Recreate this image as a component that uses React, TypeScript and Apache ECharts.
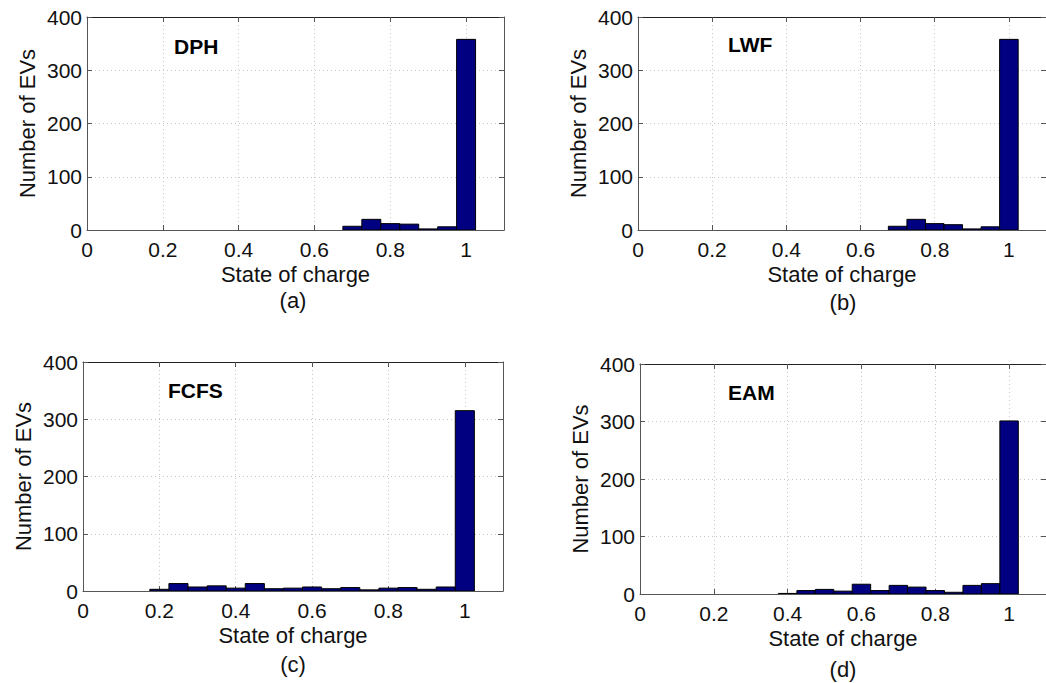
import React, { useEffect, useRef } from "react";
import * as echarts from "echarts";

const BIN = 0.05;
const xTicks = [0, 0.2, 0.4, 0.6, 0.8, 1];
const yTicks = [0, 100, 200, 300, 400];

const centersAB = [0.7, 0.75, 0.8, 0.85, 0.9, 0.95, 1.0];
const dphCounts = [7, 20, 12, 11, 2, 6, 358];
const lwfCounts = [7, 20, 12, 10, 2, 6, 358];

const centersC = [0.2, 0.25, 0.3, 0.35, 0.4, 0.45, 0.5, 0.55, 0.6, 0.65, 0.7, 0.75, 0.8, 0.85, 0.9, 0.95, 1.0];
const fcfsCounts = [3, 13, 7, 9, 5, 13, 4, 5, 7, 4, 6, 2, 5, 6, 3, 7, 315];

const centersD = [0.4, 0.45, 0.5, 0.55, 0.6, 0.65, 0.7, 0.75, 0.8, 0.85, 0.9, 0.95, 1.0];
const eamCounts = [1, 6, 8, 5, 17, 6, 15, 12, 6, 3, 15, 18, 301];

const panelNames = ["DPH", "LWF", "FCFS", "EAM"];
const panelTags = ["(a)", "(b)", "(c)", "(d)"];
const xName = "State of charge";
const yName = "Number of EVs";

const FONT = "'Liberation Sans', Arial, Helvetica, sans-serif";

export default function App() {
  const ref = useRef<HTMLDivElement>(null);
  useEffect(() => {
    if (!ref.current) return;
    const chart = echarts.init(ref.current, null, { renderer: "svg" });

    const grids = [
      { left: 87, top: 17, width: 417, height: 213 },
      { left: 638, top: 17, width: 412, height: 213 },
      { left: 83, top: 362, width: 420, height: 229 },
      { left: 640, top: 364, width: 410, height: 230 },
    ];
    const datasets = [
      centersAB.map((c, i) => [c, dphCounts[i]]),
      centersAB.map((c, i) => [c, lwfCounts[i]]),
      centersC.map((c, i) => [c, fcfsCounts[i]]),
      centersD.map((c, i) => [c, eamCounts[i]]),
    ];
    const labelPos = [
      { x: 174, y: 47 },
      { x: 728, y: 45 },
      { x: 168, y: 391 },
      { x: 728, y: 393 },
    ];
    const tagPos = [
      { x: 293, y: 300 },
      { x: 843, y: 302 },
      { x: 293, y: 664 },
      { x: 843, y: 669 },
    ];

    const axisLineStyle = { color: "#555", width: 1 };
    const topLineStyle = { color: "#222", width: 1 };
    const xAxes: any[] = [];
    const yAxes: any[] = [];
    const series: any[] = [];

    grids.forEach((g, i) => {
      xAxes.push({
        type: "value",
        gridIndex: i,
        min: 0,
        max: 1.1,
        interval: 0.2,
        name: xName,
        nameLocation: "middle",
        nameGap: 33,
        nameTextStyle: { fontFamily: FONT, fontSize: 22, color: "#111" },
        axisLine: { show: true, onZero: false, lineStyle: axisLineStyle },
        axisTick: { show: true, inside: true, length: 5, lineStyle: axisLineStyle },
        axisLabel: {
          fontFamily: FONT,
          fontSize: 21,
          color: "#111",
          margin: 9,
          showMaxLabel: false,
          formatter: (v: number) => (xTicks.some((t) => Math.abs(t - v) < 1e-6) ? String(+v.toFixed(1)) : ""),
        },
        splitLine: { show: true, lineStyle: { color: "#c8c8c8", type: [1, 3], width: 1 } },
      });
      xAxes.push({
        type: "value",
        gridIndex: i,
        position: "top",
        min: 0,
        max: 1.1,
        interval: 0.2,
        axisLine: { show: true, onZero: false, lineStyle: topLineStyle },
        axisTick: { show: true, inside: true, length: 5, lineStyle: axisLineStyle },
        axisLabel: { show: false },
        splitLine: { show: false },
      });
      yAxes.push({
        type: "value",
        gridIndex: i,
        min: 0,
        max: 400,
        interval: 100,
        name: yName,
        nameLocation: "middle",
        nameGap: 49,
        nameTextStyle: { fontFamily: FONT, fontSize: 22, color: "#111" },
        axisLine: { show: true, onZero: false, lineStyle: axisLineStyle },
        axisTick: { show: true, inside: true, length: 5, lineStyle: axisLineStyle },
        axisLabel: {
          fontFamily: FONT,
          fontSize: 21,
          color: "#111",
          margin: 5,
          formatter: (v: number) => (yTicks.includes(v) ? String(v) : ""),
        },
        splitLine: { show: true, lineStyle: { color: "#c8c8c8", type: [1, 3], width: 1 } },
      });
      yAxes.push({
        type: "value",
        gridIndex: i,
        position: "right",
        min: 0,
        max: 400,
        interval: 100,
        axisLine: { show: true, onZero: false, lineStyle: axisLineStyle },
        axisTick: { show: true, inside: true, length: 5, lineStyle: axisLineStyle },
        axisLabel: { show: false },
        splitLine: { show: false },
      });
      series.push({
        type: "custom",
        xAxisIndex: i * 2,
        yAxisIndex: i * 2,
        data: datasets[i],
        encode: { x: 0, y: 1 },
        clip: true,
        renderItem: (params: any, api: any) => {
          const x = api.value(0);
          const y = api.value(1);
          const p0 = api.coord([x - BIN / 2, y]);
          const p1 = api.coord([x + BIN / 2, 0]);
          return {
            type: "rect",
            shape: { x: p0[0], y: p0[1], width: p1[0] - p0[0], height: p1[1] - p0[1] },
            style: { fill: "#000080", stroke: "#000", lineWidth: 1 },
          };
        },
      });
    });

    const graphic: any[] = [];
    panelNames.forEach((n, i) => {
      graphic.push({
        type: "text",
        left: labelPos[i].x,
        top: labelPos[i].y - 11,
        style: { text: n, font: `bold 21px ${FONT}`, fill: "#000" },
      });
      graphic.push({
        type: "text",
        x: tagPos[i].x,
        y: tagPos[i].y,
        style: {
          text: panelTags[i],
          font: `22px ${FONT}`,
          fill: "#111",
          align: "center",
          verticalAlign: "middle",
        },
      });
    });

    chart.setOption({
      animation: false,
      backgroundColor: "#fff",
      grid: grids.map((g) => ({ ...g, containLabel: false })),
      xAxis: xAxes,
      yAxis: yAxes,
      series,
      graphic,
    });
    return () => chart.dispose();
  }, []);
  return (
    <div
      ref={ref}
      style={{ position: "fixed", left: 0, top: 0, width: 1046, height: 683, background: "#fff" }}
    />
  );
}
